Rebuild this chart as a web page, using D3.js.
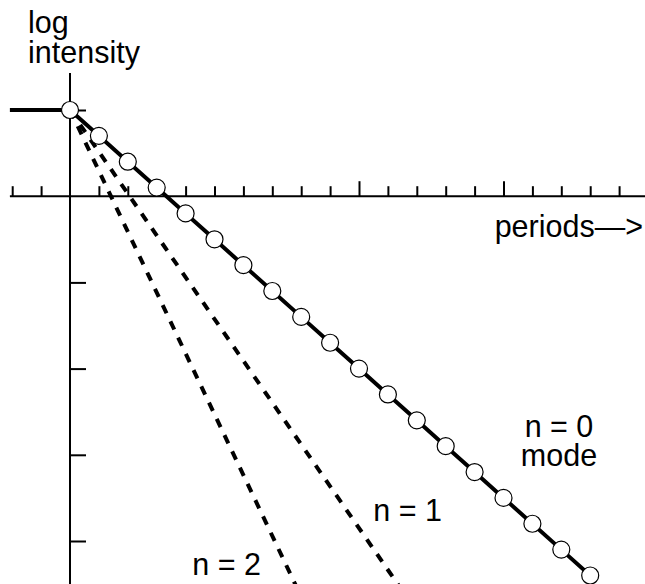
<!DOCTYPE html>
<html>
<head>
<meta charset="utf-8">
<script src="https://cdn.jsdelivr.net/npm/d3@7"></script>
<style>
  html, body { margin: 0; padding: 0; background: #fff; }
  svg { display: block; }
  text { font-family: "Liberation Sans", Arial, Helvetica, sans-serif; fill: #000; }
</style>
</head>
<body>
<svg id="chart" width="645" height="584"></svg>
<script>
// Periods at which the n = 0 mode is sampled, and its log intensity there
const periods = [0, 1, 2, 3, 4, 5, 6, 7, 8, 9, 10, 11, 12, 13, 14, 15, 16, 17, 18];
const modeN0 = [1, 0.7, 0.4, 0.1, -0.2, -0.5, -0.8, -1.1, -1.4, -1.7, -2.0,
                -2.3, -2.6, -2.9, -3.2, -3.5, -3.8, -4.1, -4.4];

// Higher-order modes decay faster (start and end of each straight line)
const modeN1 = [[0, 1], [12, -4.82]];
const modeN2 = [[0, 1], [8.5, -5.0]];

// Incoming level before the first period
const incident = [[-2.08, 1], [0, 1]];

// Axis ticks
const minorTicks = [-2, -1, 1, 2, 3, 4, 5, 6, 7, 8, 9, 11, 12, 13, 14, 16, 17, 18, 19];
const majorTicks = [10, 15];
const yTicks = [1, -1, -2, -3, -4];
const xAxisExtent = [-2.08, 19.95];
const yAxisExtent = [1.43, -4.5];

// Labels
const yLabel = ["log", "intensity"];
const xLabel = "periods\u2014>";
const curveLabels = [
  { text: "n = 0", x: 16.92, y: -2.79 },
  { text: "mode",  x: 16.92, y: -3.13 },
  { text: "n = 1", x: 11.68, y: -3.77 },
  { text: "n = 2", x: 5.42,  y: -4.4 }
];

const svg = d3.select("#chart");

const x = d3.scaleLinear().domain([0, 10]).range([70, 359]);
const y = d3.scaleLinear().domain([1, -4]).range([110, 541]);
const y0 = y(0);
const fontSize = 30.5;

// Horizontal axis with tick marks pointing up
svg.append("line")
  .attr("x1", x(xAxisExtent[0])).attr("x2", x(xAxisExtent[1]))
  .attr("y1", y0).attr("y2", y0)
  .attr("stroke", "#000").attr("stroke-width", 2);

const minorAxis = svg.append("g").attr("transform", `translate(0,${y0})`)
  .call(d3.axisTop(x).tickValues(minorTicks).tickSize(10).tickFormat(""));
const majorAxis = svg.append("g").attr("transform", `translate(0,${y0})`)
  .call(d3.axisTop(x).tickValues(majorTicks).tickSize(15).tickFormat(""));
[minorAxis, majorAxis].forEach(g => {
  g.select(".domain").remove();
  g.selectAll(".tick line").attr("stroke", "#000").attr("stroke-width", 2);
});

// Vertical axis with tick marks pointing right
svg.append("line")
  .attr("x1", x(0)).attr("x2", x(0))
  .attr("y1", y(yAxisExtent[0])).attr("y2", y(yAxisExtent[1]))
  .attr("stroke", "#000").attr("stroke-width", 2);

const yAxis = svg.append("g").attr("transform", `translate(${x(0)},0)`)
  .call(d3.axisRight(y).tickValues(yTicks).tickSize(16).tickFormat(""));
yAxis.select(".domain").remove();
yAxis.selectAll(".tick line").attr("stroke", "#000").attr("stroke-width", 2);

const line = d3.line().x(d => x(d[0])).y(d => y(d[1]));

// Faster-decaying modes, dashed
[modeN1, modeN2].forEach(pts => {
  svg.append("path")
    .attr("d", line(pts))
    .attr("fill", "none")
    .attr("stroke", "#000")
    .attr("stroke-width", 4)
    .attr("stroke-dasharray", "9,9");
});

// Incoming level
svg.append("path")
  .attr("d", line(incident))
  .attr("fill", "none")
  .attr("stroke", "#000")
  .attr("stroke-width", 4);

// n = 0 mode
const n0 = periods.map((p, i) => [p, modeN0[i]]);
svg.append("path")
  .attr("d", line(n0))
  .attr("fill", "none")
  .attr("stroke", "#000")
  .attr("stroke-width", 4);

svg.append("g").selectAll("circle")
  .data(n0)
  .join("circle")
  .attr("cx", d => x(d[0]))
  .attr("cy", d => y(d[1]))
  .attr("r", 8.5)
  .attr("fill", "#fff")
  .attr("stroke", "#000")
  .attr("stroke-width", 1.2);

// Axis titles
svg.append("text").attr("x", 28).attr("y", 33)
  .attr("font-size", fontSize).text(yLabel[0]);
svg.append("text").attr("x", 28).attr("y", 63)
  .attr("font-size", fontSize).text(yLabel[1]);
svg.append("text").attr("x", 643).attr("y", 237)
  .attr("text-anchor", "end")
  .attr("font-size", fontSize).text(xLabel);

// Curve labels
svg.append("g").selectAll("text")
  .data(curveLabels)
  .join("text")
  .attr("x", d => x(d.x))
  .attr("y", d => y(d.y))
  .attr("text-anchor", "middle")
  .attr("font-size", fontSize)
  .text(d => d.text);
</script>
</body>
</html>
